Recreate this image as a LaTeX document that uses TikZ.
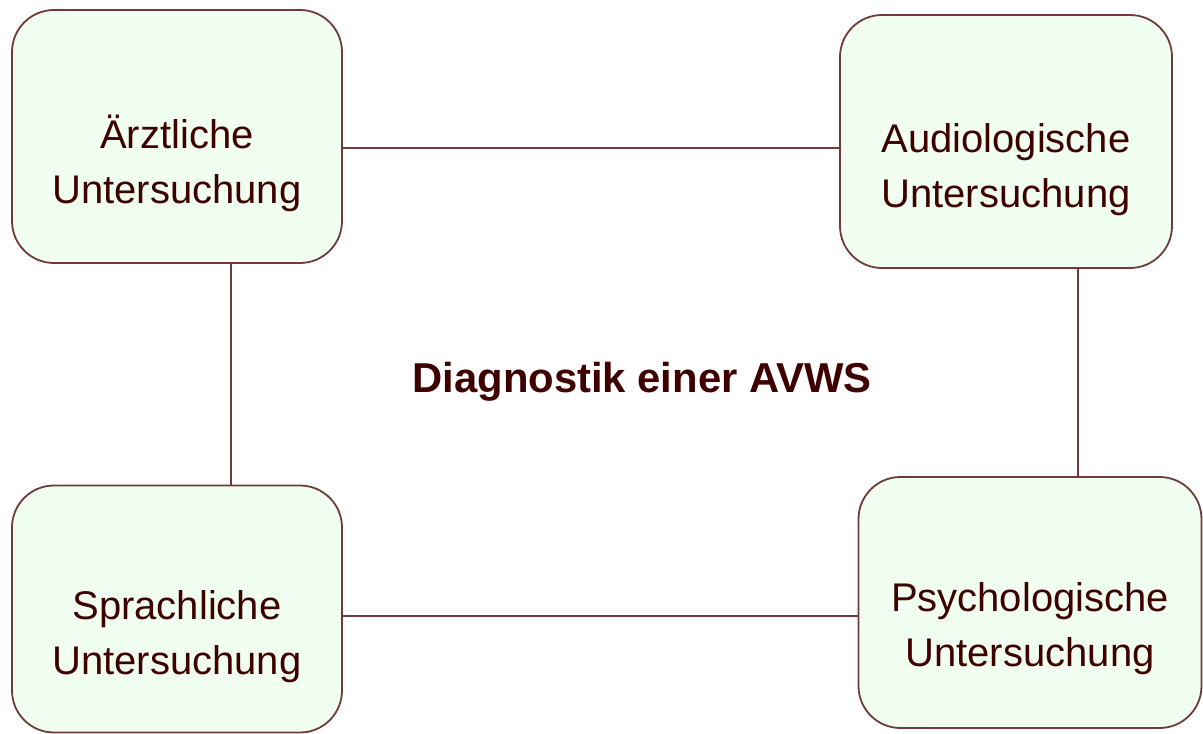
\documentclass[tikz,border=0pt]{standalone}
\usepackage{fontspec}
\setmainfont{Liberation Sans}
\definecolor{edge}{HTML}{6E3A3A}
\definecolor{txt}{HTML}{3F0000}
\definecolor{boxfill}{HTML}{F0FFF0}
\begin{document}
\begin{tikzpicture}[x=1pt,y=-1pt,
  box/.style={draw=edge,line width=1.8pt,fill=boxfill,rounded corners=42pt,inner sep=0pt},
  lbl/.style={text=txt,font=\fontsize{40}{55}\selectfont,align=center},
  conn/.style={draw=edge,line width=1.8pt}]
\useasboundingbox (0,0) rectangle (1203,734);
\node[box,minimum width=330pt,minimum height=253pt] (a) at (177,136.5) {};
\node[box,minimum width=332pt,minimum height=253pt] (b) at (1006,141.5) {};
\node[box,minimum width=330pt,minimum height=247pt] (c) at (177,609) {};
\node[box,minimum width=343pt,minimum height=251pt] (d) at (1030,602.5) {};
\node[lbl] (ta) at (177,163) {Ärztliche\\Untersuchung};
\node[lbl] (tb) at (1006,170) {Audiologische\\Untersuchung};
\node[lbl] (tc) at (177,637) {Sprachliche\\Untersuchung};
\node[lbl] (td) at (1030,629) {Psychologische\\Untersuchung};
\node[text=txt,font=\fontsize{41.8}{48}\bfseries] (t) at (642,382) {Diagnostik einer AVWS};
\draw[conn] (a.east |- 0,148) -- (b.west |- 0,148);
\draw[conn] (a.south -| 231,0) -- (c.north -| 231,0);
\draw[conn] (b.south -| 1078,0) -- (d.north -| 1078,0);
\draw[conn] (c.east |- 0,616) -- (d.west |- 0,616);
\end{tikzpicture}
\end{document}
